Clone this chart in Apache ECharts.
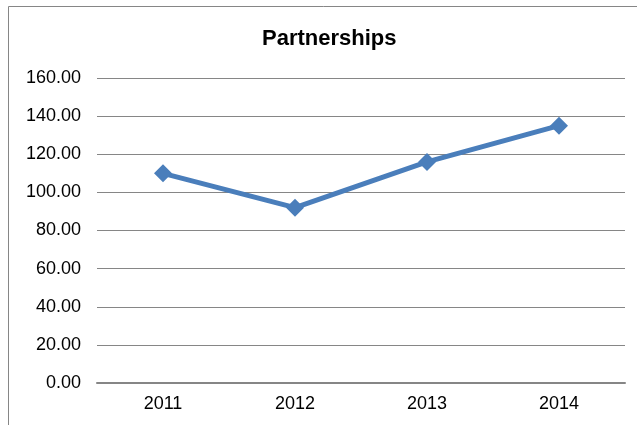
<!DOCTYPE html>
<html>
<head>
<meta charset="utf-8">
<style>
  html, body { margin: 0; padding: 0; background: #fff; }
  #chart { width: 637px; height: 425px; }
</style>
<script src="https://cdn.jsdelivr.net/npm/echarts@6/dist/echarts.min.js"></script>
</head>
<body>
<div id="chart"></div>
<script>
// Partnerships per year
var years = ['2011', '2012', '2013', '2014'];
var partnerships = [110, 92, 116, 135];
var yMin = 0, yMax = 160, yStep = 20;

var font = 'Liberation Sans, Arial, sans-serif';
var chart = echarts.init(document.getElementById('chart'));
chart.setOption({
  animation: false,
  backgroundColor: '#ffffff',
  title: {
    text: 'Partnerships',
    left: 262, top: 28, padding: 0,
    textStyle: { fontFamily: font, fontSize: 22, fontWeight: 'bold', color: '#000' }
  },
  graphic: [{
    type: 'rect', silent: true,
    shape: { x: 8.5, y: 6.5, width: 700, height: 500 },
    style: { fill: 'none', stroke: '#868686', lineWidth: 1 }
  }],
  grid: { left: 97, right: 12, top: 78, bottom: 42 },
  xAxis: {
    type: 'category',
    data: years,
    boundaryGap: true,
    axisLine: { lineStyle: { color: '#868686', width: 2 } },
    axisTick: { show: false },
    axisLabel: { margin: 12, fontFamily: font, fontSize: 18, color: '#000' }
  },
  yAxis: {
    type: 'value',
    min: yMin, max: yMax, interval: yStep,
    axisLine: { show: false },
    axisTick: { show: false },
    splitLine: { lineStyle: { color: '#868686', width: 1 } },
    axisLabel: {
      margin: 16,
      fontFamily: font, fontSize: 18, color: '#000',
      formatter: function (v) { return v.toFixed(2); }
    }
  },
  series: [{
    type: 'line',
    data: partnerships,
    symbol: 'diamond',
    symbolSize: 18,
    lineStyle: { color: '#4a7ebb', width: 5 },
    itemStyle: { color: '#4a7ebb' }
  }]
});
</script>
</body>
</html>
